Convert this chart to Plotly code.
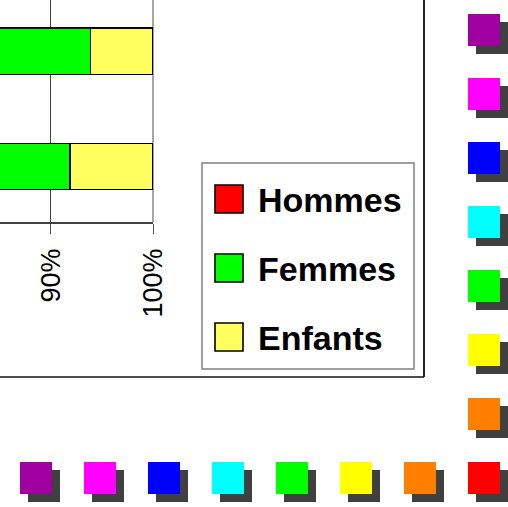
import plotly.graph_objects as go

# ---- data ----
categories = ["Groupe 2", "Groupe 1"]          # bottom to top
series_names = ["Hommes", "Femmes", "Enfants"]
hommes = [55.0, 60.0]
femmes = [36.9, 33.9]
enfants = [8.1, 6.1]
tick_values = [80, 90, 100]
tick_labels = ["80%", "90%", "100%"]
palette = ["#A000A0", "#FF00FF", "#0000FF", "#00FFFF",
           "#00FF00", "#FFFF00", "#FF8000", "#FF0000"]

# ---- styles ----
series_colors = ["#FF0000", "#00FF00", "#FFFF60"]
W, H = 508, 507
FONT = "Liberation Sans, Arial, sans-serif"


def px(x):
    return x / W


def py(y):
    return 1 - y / H


fig = go.Figure()
for name, vals, col in zip(series_names, [hommes, femmes, enfants], series_colors):
    fig.add_trace(go.Bar(
        y=categories, x=vals, name=name, orientation="h",
        marker=dict(color=col, line=dict(color="#000000", width=1.6)),
        width=0.4, cliponaxis=False, showlegend=False,
    ))

shapes = []
# outer chart frame (right and bottom edges)
shapes.append(dict(type="line", xref="paper", yref="paper",
                   x0=px(424), x1=px(424), y0=py(-2), y1=py(377),
                   line=dict(color="#222222", width=2)))
shapes.append(dict(type="line", xref="paper", yref="paper",
                   x0=px(-2), x1=px(424), y0=py(377), y1=py(377),
                   line=dict(color="#111111", width=1.5)))
# plot area right border (100%)
shapes.append(dict(type="line", xref="paper", yref="paper",
                   x0=px(153), x1=px(153), y0=py(-2), y1=py(222),
                   line=dict(color="#888888", width=1.5), layer="below"))

# custom legend
shapes.append(dict(type="rect", xref="paper", yref="paper",
                   x0=px(202), x1=px(414), y0=py(163), y1=py(369),
                   line=dict(color="#808080", width=1.5), fillcolor="white"))
annotations = []
for i, (name, col) in enumerate(zip(series_names, series_colors)):
    cy = 199 + 69 * i
    shapes.append(dict(type="rect", xref="paper", yref="paper",
                       x0=px(215), x1=px(243), y0=py(cy - 14), y1=py(cy + 14),
                       line=dict(color="#000000", width=1.6), fillcolor=col))
    annotations.append(dict(xref="paper", yref="paper", x=px(256), y=py(cy + 1),
                            xanchor="left", yanchor="middle", showarrow=False,
                            text="<b>%s</b>" % name,
                            font=dict(family=FONT, size=34, color="#000000")))

# decorative palette squares with shadows
for i, col in enumerate(palette):
    for (x0, y0) in [(468, 14 + 64 * i), (20 + 64 * i, 462)]:
        shapes.append(dict(type="rect", xref="paper", yref="paper",
                           x0=px(x0 + 8), x1=px(x0 + 40), y0=py(y0 + 8), y1=py(y0 + 40),
                           line=dict(width=0), fillcolor="#404040"))
for i, col in enumerate(palette):
    for (x0, y0) in [(468, 14 + 64 * i), (20 + 64 * i, 462)]:
        shapes.append(dict(type="rect", xref="paper", yref="paper",
                           x0=px(x0), x1=px(x0 + 32), y0=py(y0), y1=py(y0 + 32),
                           line=dict(width=0), fillcolor=col))

fig.update_layout(
    width=W, height=H,
    margin=dict(l=0, r=0, t=0, b=0, pad=0),
    paper_bgcolor="white", plot_bgcolor="white",
    barmode="stack", bargap=0.6,
    shapes=shapes, annotations=annotations,
    xaxis=dict(domain=[0, px(153)], range=[85.04, 100], automargin=False,
               tickvals=tick_values, ticktext=tick_labels, tickangle=-90,
               ticks="outside", ticklen=10, tickcolor="#555555", tickwidth=1.2,
               showgrid=True, gridcolor="#444444", gridwidth=1,
               showline=True, linecolor="#404040", linewidth=1.5,
               zeroline=False, ticklabelstandoff=4,
               tickfont=dict(family=FONT, size=27, color="#000000")),
    yaxis=dict(domain=[py(222), 1], range=[-0.48, 1.444], automargin=False,
               showticklabels=False, showgrid=False, zeroline=False, showline=False),
)

fig.write_html(
    "out.html",
    config={"displayModeBar": False},
    post_script="document.body.style.margin='0';document.body.style.overflow='hidden';",
)
